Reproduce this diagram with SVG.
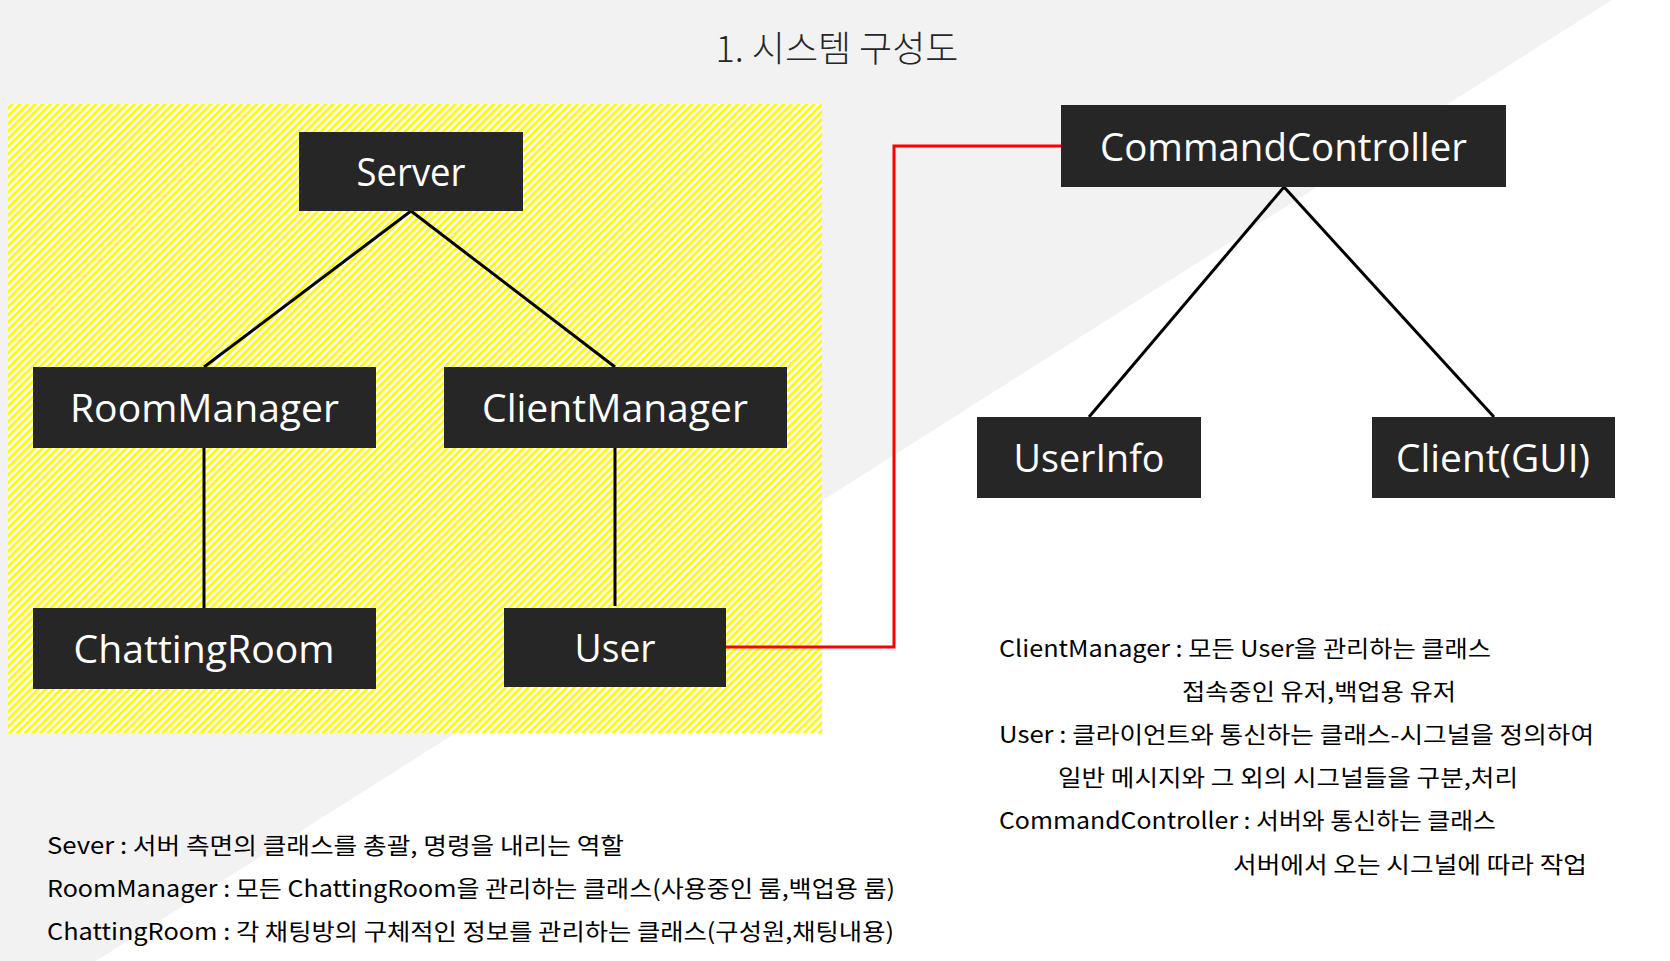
<svg xmlns="http://www.w3.org/2000/svg" width="1670" height="961" viewBox="0 0 1670 961">
  <defs>
    <pattern id="hatch" patternUnits="userSpaceOnUse" width="5.4" height="20" patternTransform="rotate(45)">
      <rect x="0" y="0" width="5.4" height="20" fill="#ffffff"/>
      <rect x="0" y="0" width="2.7" height="20" fill="#ffff00" shape-rendering="crispEdges"/>
    </pattern>
    <style>
      .node rect { fill: #262626; }
      .node text { fill: #ffffff; font-family: "Open Sans", "Noto Sans", "Noto Sans CJK KR", sans-serif; font-size: 38px; text-anchor: middle; }
      .conn { stroke: #000000; stroke-width: 3; fill: none; }
      .red { stroke: #ff0000; stroke-width: 3; fill: none; }
      .desc { fill: #000000; font-family: "Noto Sans CJK KR", "Noto Sans", sans-serif; font-size: 23px; }
      .title { fill: #262626; font-family: "Noto Sans CJK KR", "Noto Sans", sans-serif; font-size: 36px; font-weight: 300; text-anchor: middle; }
    </style>
  </defs>

  <rect x="0" y="0" width="1670" height="961" fill="#ffffff"/>
  <polygon points="0,0 1612,0 96,961 0,961" fill="#f2f2f2"/>

  <text class="title" x="837" y="62">1. 시스템 구성도</text>

  <rect id="server-area" x="8" y="104" width="814" height="629" fill="url(#hatch)"/>

  <g id="connectors">
    <line class="conn" x1="411" y1="211" x2="204" y2="367"/>
    <line class="conn" x1="411" y1="211" x2="615" y2="367"/>
    <line class="conn" x1="204" y1="448" x2="204" y2="608"/>
    <line class="conn" x1="615" y1="448" x2="615" y2="606"/>
    <line class="conn" x1="1284" y1="187" x2="1089" y2="417"/>
    <line class="conn" x1="1284" y1="187" x2="1494" y2="417"/>
    <polyline class="red" points="726,647 894,647 894,146 1061,146"/>
  </g>

  <g id="node-server" class="node">
    <rect x="299" y="132" width="224" height="79"/>
    <text x="411" y="186" textLength="109" lengthAdjust="spacingAndGlyphs">Server</text>
  </g>
  <g id="node-roommanager" class="node">
    <rect x="33" y="367" width="343" height="81"/>
    <text x="204.5" y="422" textLength="269" lengthAdjust="spacingAndGlyphs">RoomManager</text>
  </g>
  <g id="node-clientmanager" class="node">
    <rect x="444" y="367" width="343" height="81"/>
    <text x="615" y="422" textLength="266" lengthAdjust="spacingAndGlyphs">ClientManager</text>
  </g>
  <g id="node-chattingroom" class="node">
    <rect x="33" y="608" width="343" height="81"/>
    <text x="204" y="663" textLength="261" lengthAdjust="spacingAndGlyphs">ChattingRoom</text>
  </g>
  <g id="node-user" class="node">
    <rect x="504" y="608" width="222" height="79"/>
    <text x="615" y="662" textLength="81" lengthAdjust="spacingAndGlyphs">User</text>
  </g>
  <g id="node-commandcontroller" class="node">
    <rect x="1061" y="105" width="445" height="82"/>
    <text x="1283.5" y="161" textLength="367" lengthAdjust="spacingAndGlyphs">CommandController</text>
  </g>
  <g id="node-userinfo" class="node">
    <rect x="977" y="417" width="224" height="81"/>
    <text x="1089" y="472" textLength="151" lengthAdjust="spacingAndGlyphs">UserInfo</text>
  </g>
  <g id="node-client" class="node">
    <rect x="1372" y="417" width="243" height="81"/>
    <text x="1493" y="472" textLength="194" lengthAdjust="spacingAndGlyphs">Client(GUI)</text>
  </g>

  <g id="descriptions-left">
    <text class="desc" x="47" y="854" textLength="577" lengthAdjust="spacingAndGlyphs">Sever : 서버 측면의 클래스를 총괄, 명령을 내리는 역할</text>
    <text class="desc" x="47" y="897" textLength="848" lengthAdjust="spacingAndGlyphs">RoomManager : 모든 ChattingRoom을 관리하는 클래스(사용중인 룸,백업용 룸)</text>
    <text class="desc" x="47" y="940" textLength="847" lengthAdjust="spacingAndGlyphs">ChattingRoom : 각 채팅방의 구체적인 정보를 관리하는 클래스(구성원,채팅내용)</text>
  </g>
  <g id="descriptions-right">
    <text class="desc" x="999" y="657" textLength="492" lengthAdjust="spacingAndGlyphs">ClientManager : 모든 User을 관리하는 클래스</text>
    <text class="desc" x="1182" y="700" textLength="274" lengthAdjust="spacingAndGlyphs">접속중인 유저,백업용 유저</text>
    <text class="desc" x="999" y="743" textLength="595" lengthAdjust="spacingAndGlyphs">User : 클라이언트와 통신하는 클래스-시그널을 정의하여</text>
    <text class="desc" x="1058" y="786" textLength="460" lengthAdjust="spacingAndGlyphs">일반 메시지와 그 외의 시그널들을 구분,처리</text>
    <text class="desc" x="999" y="829" textLength="497" lengthAdjust="spacingAndGlyphs">CommandController : 서버와 통신하는 클래스</text>
    <text class="desc" x="1233" y="873" textLength="354" lengthAdjust="spacingAndGlyphs">서버에서 오는 시그널에 따라 작업</text>
  </g>
</svg>
